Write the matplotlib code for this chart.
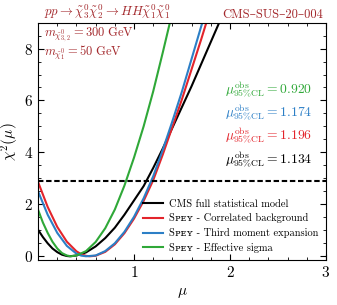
import matplotlib
matplotlib.use("Agg")
import matplotlib.pyplot as plt
from matplotlib.ticker import MultipleLocator, FixedLocator

plt.rcParams.update({
    "font.family": ["cmr10", "DejaVu Serif"],
    "mathtext.fontset": "cm",
    "axes.formatter.use_mathtext": True,
    "font.size": 11,
})

TITLE_RED = "#a3282c"
C_BLACK = "black"
C_RED = "#e3242b"
C_BLUE = "#2c7fc6"
C_GREEN = "#2fa838"

# chi2(mu) curves
mu_black = [0.0, 0.05, 0.1, 0.15, 0.2, 0.25, 0.3, 0.33, 0.4, 0.5, 0.6, 0.7, 0.8, 0.9,
            1.0, 1.1, 1.2, 1.3, 1.4, 1.5, 1.6, 1.7, 1.8, 1.9, 1.95]
chi2_black = [1.02, 0.74, 0.50, 0.30, 0.16, 0.06, 0.01, 0.0, 0.03, 0.15, 0.38, 0.70, 1.10, 1.60,
              2.15, 2.70, 3.40, 4.15, 4.95, 5.75, 6.55, 7.40, 8.25, 9.10, 9.5]

mu_red = [0.0, 0.1, 0.2, 0.3, 0.4, 0.45, 0.5, 0.54, 0.6, 0.7, 0.8, 0.9, 1.0, 1.1, 1.2,
          1.3, 1.4, 1.5, 1.6, 1.7, 1.75, 1.8]
chi2_red = [2.86, 1.90, 1.13, 0.56, 0.19, 0.08, 0.016, 0.0, 0.02, 0.17, 0.46, 0.89, 1.45, 2.13, 2.93,
            3.92, 4.98, 6.05, 7.20, 8.35, 8.95, 9.5]

mu_blue = [0.0, 0.1, 0.2, 0.3, 0.4, 0.45, 0.5, 0.6, 0.7, 0.8, 0.9, 1.0, 1.1, 1.2,
           1.3, 1.4, 1.5, 1.6, 1.7, 1.75]
chi2_blue = [2.50, 1.60, 0.90, 0.40, 0.10, 0.025, 0.0, 0.03, 0.20, 0.50, 0.94, 1.52, 2.23, 3.08,
             4.10, 5.20, 6.35, 7.60, 8.85, 9.45]

mu_green = [0.0, 0.05, 0.1, 0.15, 0.2, 0.25, 0.3, 0.34, 0.4, 0.5, 0.6, 0.7, 0.8, 0.9,
            1.0, 1.1, 1.2, 1.3, 1.4]
chi2_green = [1.79, 1.30, 0.90, 0.56, 0.30, 0.12, 0.03, 0.0, 0.03, 0.20, 0.55, 1.08, 1.80, 2.72,
              3.80, 5.00, 6.35, 7.85, 9.40]

threshold = 2.9

labels = ["CMS full statistical model",
          "Sᴘᴇʏ - Correlated background",
          "Sᴘᴇʏ - Third moment expansion",
          "Sᴘᴇʏ - Effective sigma"]
mu_limits = [("0.920", C_GREEN), ("1.174", C_BLUE), ("1.196", C_RED), ("1.134", C_BLACK)]

fig = plt.figure(figsize=(3.37, 3.05), dpi=100)
ax = fig.add_axes([0.113, 0.147, 0.854, 0.779])

ax.plot(mu_black, chi2_black, color=C_BLACK, lw=1.5, label=labels[0])
ax.plot(mu_red, chi2_red, color=C_RED, lw=1.5, label=labels[1])
ax.plot(mu_blue, chi2_blue, color=C_BLUE, lw=1.5, label=labels[2])
ax.plot(mu_green, chi2_green, color=C_GREEN, lw=1.5, label=labels[3])
ax.axhline(threshold, color="black", ls=(0, (2.6, 1.3)), lw=1.5)

ax.set_xlim(0, 3)
ax.set_ylim(-0.15, 9)
ax.xaxis.set_major_locator(FixedLocator([1, 2, 3]))
ax.xaxis.set_minor_locator(MultipleLocator(0.2))
ax.yaxis.set_major_locator(FixedLocator([0, 2, 4, 6, 8]))
ax.yaxis.set_minor_locator(MultipleLocator(0.5))
ax.tick_params(which="both", direction="in", top=True, right=True, labelsize=11)
ax.tick_params(which="major", length=4.5, width=0.8)
ax.tick_params(which="minor", length=2.2, width=0.6)

ax.set_xlabel(r"$\mu$", fontsize=11)
ax.set_ylabel(r"$\chi^2(\mu)$", fontsize=11, labelpad=2)

ax.text(0.022, 1.008, r"$pp \rightarrow \tilde{\chi}^0_3\tilde{\chi}^0_2 \rightarrow HH\tilde{\chi}^0_1\tilde{\chi}^0_1$",
        transform=ax.transAxes, color=TITLE_RED, fontsize=9.3, ha="left", va="bottom")
ax.text(0.99, 1.008, "CMS–SUS–20–004", transform=ax.transAxes, color=TITLE_RED,
        fontsize=9, ha="right", va="bottom")
ax.text(0.022, 0.948, r"$m_{\tilde{\chi}^0_{3,2}} = 300\ \mathrm{GeV}$", transform=ax.transAxes,
        color=TITLE_RED, fontsize=9, ha="left", va="center")
ax.text(0.022, 0.872, r"$m_{\tilde{\chi}^0_{1}} = 50\ \mathrm{GeV}$", transform=ax.transAxes,
        color=TITLE_RED, fontsize=9, ha="left", va="center")

for i, (val, col) in enumerate(mu_limits):
    ax.text(0.952, 0.715 - i * 0.097, r"$\mu^{\rm obs}_{95\%{\rm CL}} = " + val + "$",
            transform=ax.transAxes, color=col, fontsize=9.8, ha="right", va="center")

ax.legend(loc="lower right", bbox_to_anchor=(1.0, 0.0), frameon=False, fontsize=7.5,
          handlelength=1.9, handletextpad=0.6, labelspacing=0.45, borderaxespad=0.3)

fig.savefig("out.png", dpi=100)
